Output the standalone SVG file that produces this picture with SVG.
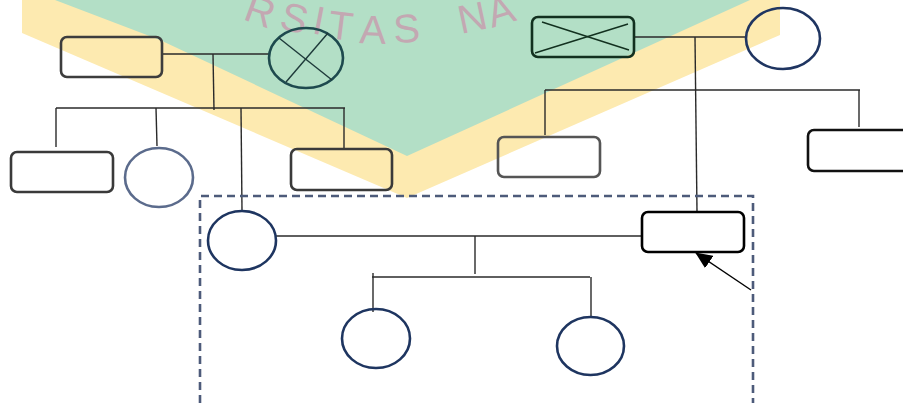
<svg xmlns="http://www.w3.org/2000/svg" width="903" height="403" viewBox="0 0 903 403">
<style>
.node{fill:none;stroke-width:2.6}
.conn{fill:none;stroke:#2a2a2a;stroke-width:1.4}
.xline{stroke-width:1.4}
.wm{font-family:"Liberation Sans",Arial,sans-serif;font-size:40px;fill:#c3a8b2}
</style>
<defs>
<marker id="ah" markerWidth="17" markerHeight="15" refX="16" refY="7.5" orient="auto" markerUnits="userSpaceOnUse" viewBox="0 0 17 15">
<path d="M0,0 L17,7.5 L0,15 z" fill="#000"/>
</marker>
</defs>
<rect width="903" height="403" fill="#fff"/>
<g id="watermark">
<polygon points="22,0 780,0 780,35 407,198 22,33" fill="#fdeab0"/>
<polygon points="55,0 750,0 407,156 160,40" fill="#b3dfc6"/>
<text class="wm" x="242 278 311 327 359 394 461 492" y="19 28 33 38 43 43 34 28" rotate="20 15 11 7 2 -3 -12 -17">RSITASNA</text>
</g>
<g id="connectors">
<line class="conn" x1="163" y1="54" x2="269" y2="54"/>
<line class="conn" x1="213" y1="54" x2="214" y2="110"/>
<line class="conn" x1="56" y1="108" x2="345" y2="108" stroke="#555"/>
<line class="conn" x1="56" y1="108" x2="56" y2="147" stroke="#555"/>
<line class="conn" x1="156" y1="108" x2="157" y2="146" stroke="#555"/>
<line class="conn" x1="241" y1="108" x2="242" y2="211"/>
<line class="conn" x1="344" y1="108" x2="344" y2="148"/>
<line class="conn" x1="634" y1="37" x2="746" y2="37"/>
<line class="conn" x1="695" y1="37" x2="697" y2="212" stroke="#444"/>
<line class="conn" x1="545" y1="90" x2="860" y2="90" stroke="#444"/>
<line class="conn" x1="545" y1="90" x2="545" y2="135"/>
<line class="conn" x1="859" y1="90" x2="859" y2="127"/>
<line class="conn" x1="276" y1="236" x2="642" y2="236" stroke="#111"/>
<line class="conn" x1="475" y1="236" x2="475" y2="274"/>
<line class="conn" x1="372" y1="277" x2="590" y2="277" stroke="#444"/>
<line class="conn" x1="373" y1="273" x2="373" y2="312" stroke="#444"/>
<line class="conn" x1="591" y1="277" x2="591" y2="316" stroke="#444"/>
<line x1="751" y1="290" x2="696" y2="253" stroke="#000" stroke-width="1.4" marker-end="url(#ah)"/>
</g>
<g id="household">
<path d="M200,403 V196 H753 V403" fill="none" stroke="#4d5b7a" stroke-width="2.6" stroke-dasharray="8,5"/>
</g>
<g id="grandfather-left">
<rect class="node" x="61" y="37" width="101" height="40" rx="6" stroke="#3d3d3d"/>
</g>
<g id="grandmother-left">
<ellipse class="node" cx="306" cy="58" rx="37" ry="30" stroke="#1e4a4e"/>
<line class="xline" x1="279" y1="38" x2="332" y2="80" stroke="#1e3a3a"/>
<line class="xline" x1="328" y1="33" x2="286" y2="82" stroke="#1e3a3a"/>
</g>
<g id="uncle-1">
<rect class="node" x="11" y="152" width="102" height="40" rx="6" stroke="#3a3a3a"/>
</g>
<g id="aunt-1">
<ellipse class="node" cx="159" cy="177.5" rx="34" ry="29.5" stroke="#5b6b8c"/>
</g>
<g id="uncle-2">
<rect class="node" x="291" y="149" width="101" height="41" rx="6" stroke="#3a3a3a"/>
</g>
<g id="grandfather-right">
<rect class="node" x="532" y="17" width="102" height="40" rx="6" stroke="#12301f" stroke-width="3"/>
<line class="xline" x1="542" y1="22" x2="629" y2="50" stroke="#12301f"/>
<line class="xline" x1="535" y1="53" x2="628" y2="24" stroke="#12301f"/>
</g>
<g id="grandmother-right">
<ellipse class="node" cx="783" cy="38.5" rx="37" ry="30.5" stroke="#1f3561"/>
</g>
<g id="uncle-3">
<rect class="node" x="498" y="137" width="102" height="40" rx="6" stroke="#555"/>
</g>
<g id="uncle-4">
<rect class="node" x="808" y="130" width="102" height="41" rx="6" stroke="#111"/>
</g>
<g id="mother">
<ellipse class="node" cx="242" cy="240.5" rx="34" ry="29.5" stroke="#1e3560"/>
</g>
<g id="father">
<rect class="node" x="642" y="212" width="102" height="40" rx="6" stroke="#000"/>
</g>
<g id="child-1">
<ellipse class="node" cx="376" cy="338.5" rx="34" ry="29.5" stroke="#1e3560"/>
</g>
<g id="child-2">
<ellipse class="node" cx="590.5" cy="346" rx="33.5" ry="29" stroke="#1e3560"/>
</g>
</svg>
